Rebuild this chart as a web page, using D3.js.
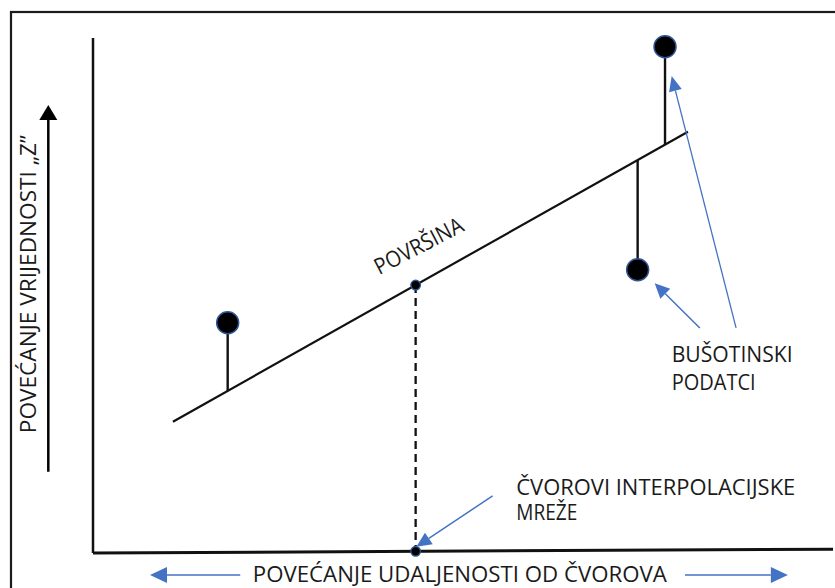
<!DOCTYPE html>
<html>
<head>
<meta charset="utf-8">
<script src="https://cdn.jsdelivr.net/npm/d3@7"></script>
<style>
  html, body { margin: 0; padding: 0; background: #fff; }
  svg { display: block; }
  text { font-family: "Open Sans", Lato, sans-serif; fill: #1a1a1a; }
</style>
</head>
<body>
<svg id="chart" width="835" height="588"></svg>
<script>
// podaci (udaljenost x, vrijednost z) u apstraktnim jedinicama 0..100
const surface = [
  { x: 10.8, z: 25.5 },
  { x: 80.4, z: 81.8 },
];
const wells = [
  { x: 18.2, z: 44.7 },
  { x: 77.3, z: 98.3 },
  { x: 73.6, z: 55.0 },
];
const gridNodeX = [43.6];
const xAxisEnds = [
  { x: 0, z: 0 },
  { x: 100, z: 0.75 },
];
const yAxisEnds = [
  { x: 0, z: 0 },
  { x: 0, z: 100 },
];

// strelice (rep -> vrh)
const blueArrows = [
  { x1: 86.9, z1: 43.7, x2: 78.2, z2: 92.6, len: 15, half: 6.5, w: 1.3 },
  { x1: 82.0, z1: 43.7, x2: 75.9, z2: 52.4, len: 15, half: 7, w: 1.5 },
  { x1: 54.0, z1: 11.1, x2: 43.7, z2: 1.2, len: 15, half: 7, w: 1.5 },
  { x1: 19.9, z1: -4.27, x2: 7.7, z2: -4.27, len: 17, half: 8, w: 1.5 },
  { x1: 80.0, z1: -4.27, x2: 93.9, z2: -4.27, len: 17, half: 8, w: 1.5 },
];
const zArrow = [{ x1: -6.04, z1: 15.8, x2: -6.04, z2: 87.0 }];

const labels = [
  { text: 'POVEĆANJE VRIJEDNOSTI „Z”', x: -7.7, z: 52.2, anchor: 'middle', rot: -90, len: 298 },
  { text: 'POVRŠINA', x: 44.5, z: 58.3, anchor: 'middle', rot: -27.5, len: 97 },
  { text: 'BUŠOTINSKI', x: 78.2, z: 37.1, anchor: 'start', rot: 0, len: 121 },
  { text: 'PODATCI', x: 78.2, z: 31.7, anchor: 'start', rot: 0, len: 84 },
  { text: 'ČVOROVI INTERPOLACIJSKE', x: 57.2, z: 11.3, anchor: 'start', rot: 0, len: 279 },
  { text: 'MREŽE', x: 57.2, z: 6.4, anchor: 'start', rot: 0, len: 61 },
  { text: 'POVEĆANJE UDALJENOSTI OD ČVOROVA', x: 21.6, z: -5.63, anchor: 'start', rot: 0, len: 414 },
];

const svg = d3.select('#chart');
const x = d3.scaleLinear().domain([0, 100]).range([93, 833]);
const y = d3.scaleLinear().domain([0, 100]).range([553, 38]);

const blue = '#4472C4';

// okvir
svg.append('rect')
  .attr('x', 11).attr('y', 12)
  .attr('width', 840).attr('height', 600)
  .attr('fill', 'none')
  .attr('stroke', '#1b1b1b')
  .attr('stroke-width', 2.2);

const line = d3.line().x(d => x(d.x)).y(d => y(d.z));

// osi
svg.append('path').datum(yAxisEnds)
  .attr('d', line).attr('stroke', '#111').attr('stroke-width', 2.5).attr('fill', 'none');
svg.append('path').datum(xAxisEnds)
  .attr('d', line).attr('stroke', '#111').attr('stroke-width', 3).attr('fill', 'none');

// ploha
const surfZ = d3.scaleLinear().domain(surface.map(d => d.x)).range(surface.map(d => d.z));
svg.append('path').datum(surface)
  .attr('d', line).attr('stroke', '#111').attr('stroke-width', 2.2).attr('fill', 'none');

// bušotine: stupić do plohe + točka
svg.selectAll('.stem').data(wells).join('line')
  .attr('class', 'stem')
  .attr('x1', d => x(d.x)).attr('x2', d => x(d.x))
  .attr('y1', d => y(d.z)).attr('y2', d => y(surfZ(d.x)))
  .attr('stroke', '#111').attr('stroke-width', 2.4);

svg.selectAll('.well').data(wells).join('circle')
  .attr('class', 'well')
  .attr('cx', d => x(d.x)).attr('cy', d => y(d.z))
  .attr('r', 11)
  .attr('fill', '#000')
  .attr('stroke', '#2F5597').attr('stroke-width', 1.5);

// čvor mreže: isprekidana linija + dvije točke
const axisZ = d3.scaleLinear().domain(xAxisEnds.map(d => d.x)).range(xAxisEnds.map(d => d.z));
gridNodeX.forEach(gx => {
  svg.append('line')
    .attr('x1', x(gx)).attr('x2', x(gx))
    .attr('y1', y(surfZ(gx))).attr('y2', y(axisZ(gx)))
    .attr('stroke', '#111').attr('stroke-width', 2.3)
    .attr('stroke-dasharray', '8,5');
  [surfZ(gx), axisZ(gx)].forEach(z => {
    svg.append('circle')
      .attr('cx', x(gx)).attr('cy', y(z)).attr('r', 4.8)
      .attr('fill', '#000').attr('stroke', '#2F5597').attr('stroke-width', 1.3);
  });
});

// strelica s glavom (trokut)
function arrow(d, color) {
  const x1 = x(d.x1), y1 = y(d.z1), x2 = x(d.x2), y2 = y(d.z2);
  const dx = x2 - x1, dy = y2 - y1;
  const L = Math.hypot(dx, dy);
  const ux = dx / L, uy = dy / L;
  const bx = x2 - ux * d.len, by = y2 - uy * d.len;
  svg.append('line')
    .attr('x1', x1).attr('y1', y1).attr('x2', bx).attr('y2', by)
    .attr('stroke', color).attr('stroke-width', d.w);
  svg.append('polygon')
    .attr('points', [
      [x2, y2],
      [bx - uy * d.half, by + ux * d.half],
      [bx + uy * d.half, by - ux * d.half],
    ].map(p => p.join(',')).join(' '))
    .attr('fill', color);
}

blueArrows.forEach(d => arrow(d, blue));
zArrow.forEach(d => arrow(Object.assign({ len: 15, half: 9, w: 2.5 }, d), '#000'));

// tekstovi (donji natpis malo manji da stane do ruba)
svg.selectAll('.lbl').data(labels).join('text')
  .attr('class', 'lbl')
  .attr('transform', d => `translate(${x(d.x)},${y(d.z)}) rotate(${d.rot})`)
  .attr('text-anchor', d => d.anchor)
  .attr('font-size', (d, i) => (i === labels.length - 1 ? 21.5 : 22.5))
  .attr('textLength', d => d.len)
  .attr('lengthAdjust', 'spacingAndGlyphs')
  .text(d => d.text);
</script>
</body>
</html>
